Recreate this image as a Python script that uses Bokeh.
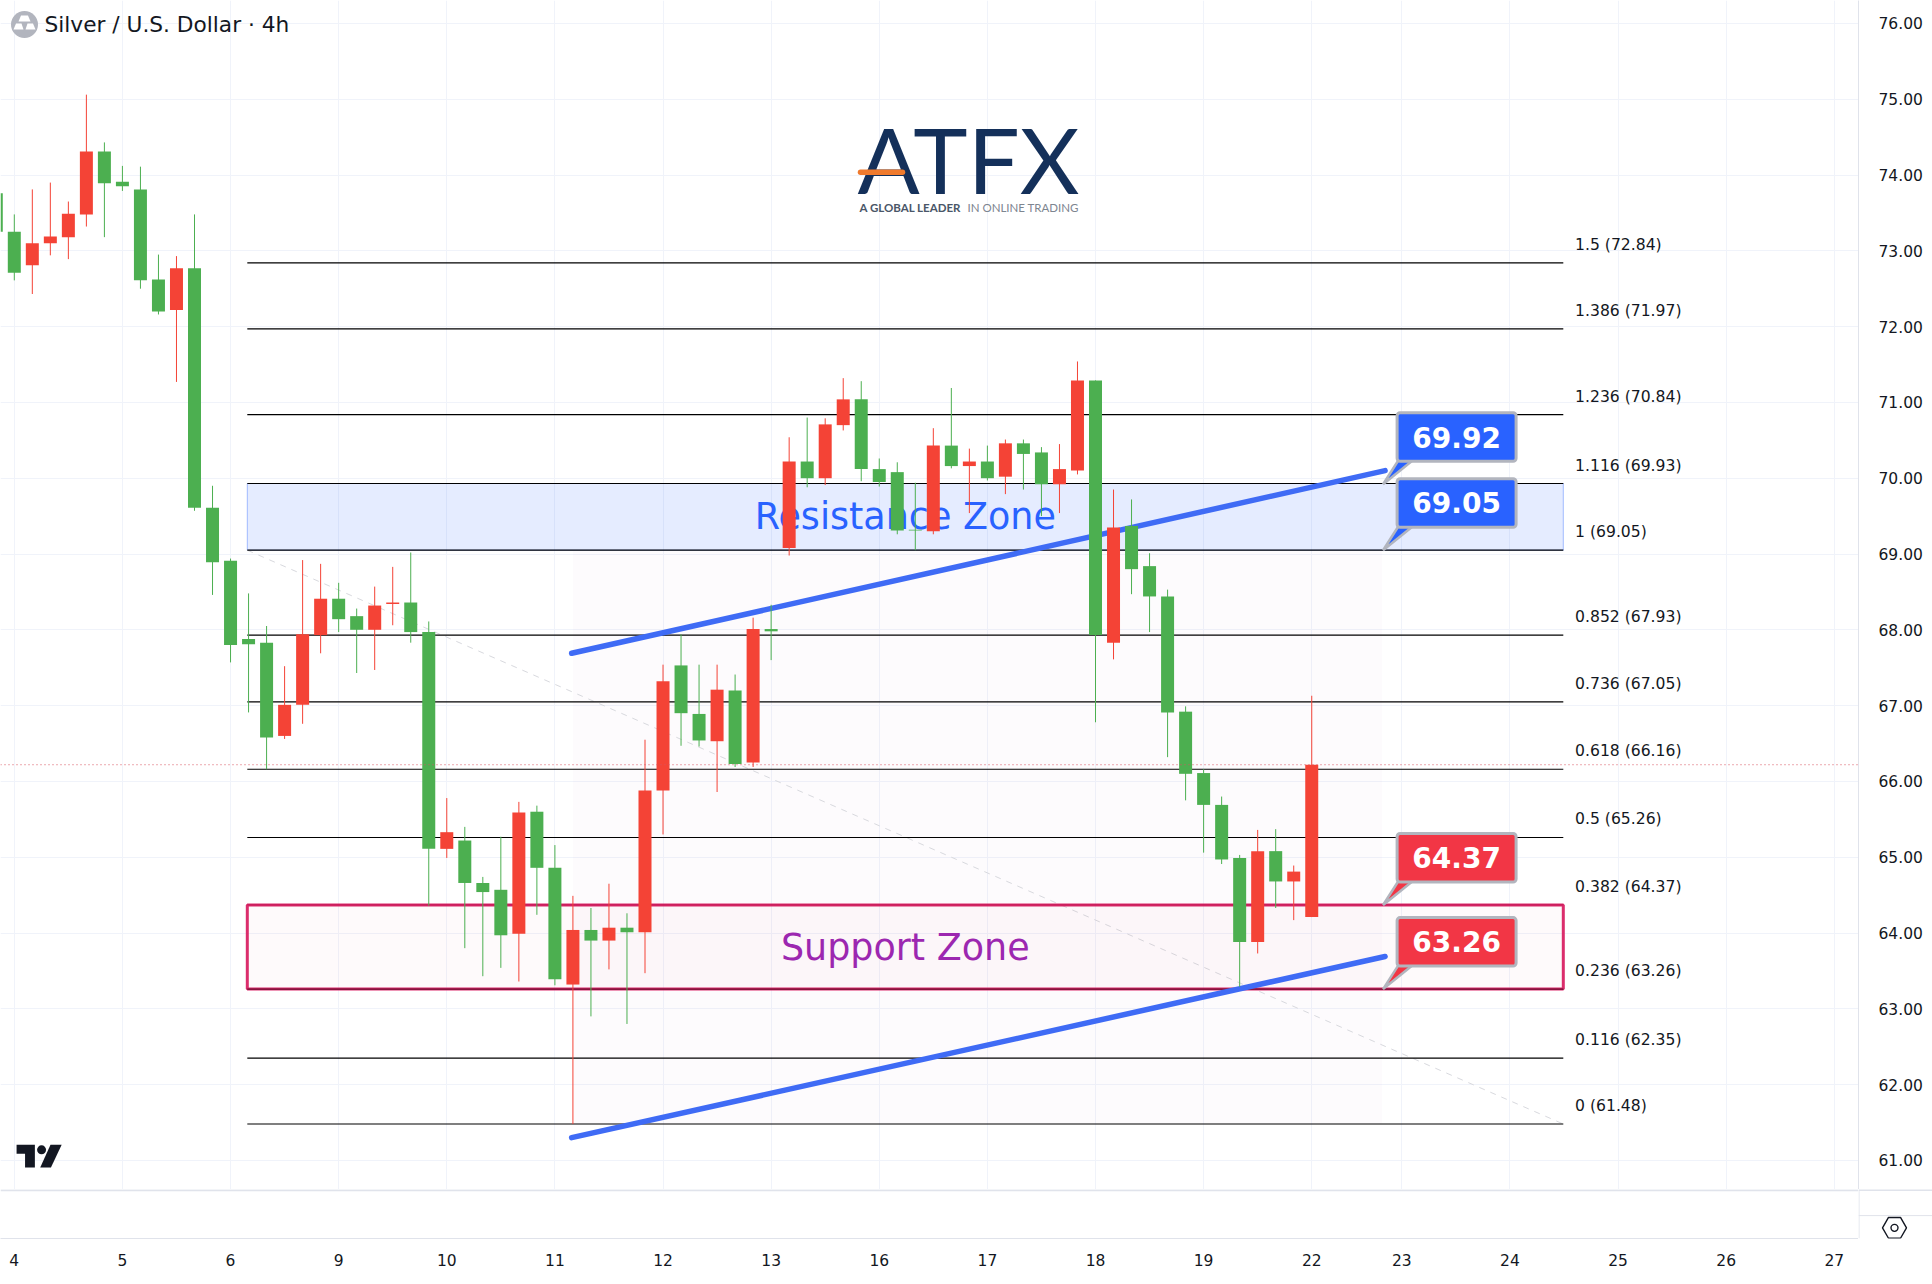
import numpy as np
from bokeh.plotting import figure
from bokeh.embed import file_html
from bokeh.resources import INLINE
from bokeh.core.properties import value
from bokeh.layouts import column, row
from bokeh.models import Range1d, FixedTicker, ColumnDataSource, Span, NumeralTickFormatter

# ---------- data ----------
first_index = -1
opens = [73.76,73.25,72.81,73.10,73.18,73.48,74.31,73.91,73.81,72.62,72.22,72.77,69.61,68.91,67.88,67.83,66.60,67.01,67.93,68.41,68.18,68.00,68.34,68.36,67.97,65.11,65.22,64.66,64.57,63.99,65.60,64.86,63.32,64.04,63.90,64.07,64.01,65.88,67.53,66.89,66.53,67.20,66.25,68.01,69.08,70.22,70.00,70.70,71.04,70.12,70.08,69.32,69.30,70.43,70.16,70.22,70.02,70.46,70.34,69.92,70.10,71.29,67.83,69.37,68.84,68.44,66.92,66.11,65.69,64.99,63.88,65.08,64.68,64.21]
closes = [73.25,72.71,73.10,73.19,73.49,74.31,73.89,73.85,72.61,72.20,72.77,69.61,68.89,67.80,67.81,66.58,67.01,67.94,68.41,68.14,68.00,68.32,68.36,67.97,65.11,65.33,64.66,64.54,63.97,65.59,64.86,63.39,64.04,63.90,64.07,64.01,65.88,67.32,66.90,66.54,67.21,66.23,68.01,67.98,70.22,70.00,70.71,71.04,70.12,69.95,69.31,69.31,70.43,70.16,70.22,70.00,70.46,70.32,69.92,70.12,71.29,67.93,69.35,68.80,68.44,66.91,66.10,65.69,64.97,63.88,65.08,64.68,64.81,66.22]
highs = [73.90,73.48,73.81,73.90,73.65,75.06,74.43,74.12,74.11,72.95,72.93,73.48,69.90,68.94,68.48,68.05,67.52,68.92,68.87,68.62,68.28,68.57,68.83,69.02,68.11,65.78,65.40,64.74,65.27,65.73,65.68,65.16,64.49,64.33,64.65,64.26,66.55,67.54,67.94,67.54,67.54,67.41,68.16,68.33,70.54,70.80,70.79,71.32,71.28,70.26,70.21,69.94,70.66,71.19,70.39,70.43,70.51,70.51,70.41,70.45,71.54,71.29,69.85,69.72,69.01,68.53,66.99,66.16,65.80,65.03,65.36,65.37,64.89,67.13]
lows = [73.20,72.61,72.43,72.94,72.89,73.32,73.18,73.79,72.50,72.16,71.27,69.57,68.46,67.57,66.91,66.16,66.56,66.76,67.69,67.97,67.43,67.47,68.06,67.83,64.36,64.99,63.80,63.43,63.54,63.36,64.24,63.31,61.48,62.90,63.52,62.80,63.47,65.30,66.47,66.46,65.86,66.19,66.19,67.60,68.98,69.88,69.91,70.63,69.96,69.89,69.26,69.05,69.26,70.13,69.54,69.97,69.79,69.85,69.50,69.54,70.05,66.78,67.61,68.47,67.97,66.32,65.75,65.06,64.91,63.29,63.73,64.33,64.17,64.21]
last_price = 66.22

date_ticks = [0,6,12,18,24,30,36,42,48,54,60,66,72,77,83,89,95,101]
date_labels = ["4","5","6","9","10","11","12","13","16","17","18","19","22","23","24","25","26","27"]
price_ticks = list(range(61, 77))

fib_ratios = ["1.5","1.386","1.236","1.116","1","0.852","0.736","0.618","0.5","0.382","0.236","0.116","0"]
fib_prices = [72.84,71.97,70.84,69.93,69.05,67.93,67.05,66.16,65.26,64.37,63.26,62.35,61.48]
fib_x = [12.93, 85.96]
trend_x = [30.93, 76.07]
upper_trend = [67.69, 70.10]
lower_trend = [61.30, 63.69]
shade_x = [31.0, 75.9]
callout_blue = [69.92, 69.05]
callout_red = [64.37, 63.26]
resistance = [69.05, 69.93]
support = [63.26, 64.37]

# ---------- pixel calibration (reference pixels) ----------
X0, DX, Y61, DY = 13.8, 18.02, 1159.9, 75.8
LEFT, RIGHT, TOP, BOTTOM = 0, 1858, 0, 1189
def px2x(px): return (px - X0) / DX
def px2y(py): return 61 + (Y61 - py) / DY

FONT = "DejaVu Sans"
RED, GREEN = "#f44336", "#4caf50"
RULE = "#e0e3eb"

p = figure(width=1932, height=BOTTOM, output_backend="svg", toolbar_location=None,
           x_range=Range1d(px2x(LEFT), px2x(RIGHT)), y_range=Range1d(px2y(BOTTOM), px2y(TOP)),
           x_axis_location=None, y_axis_location="right", min_border_left=0, min_border_top=0,
           min_border_right=1932 - RIGHT, min_border_bottom=0,
           background_fill_color="white", border_fill_color="white", outline_line_color=None)

p.yaxis.ticker = FixedTicker(ticks=price_ticks)
p.yaxis.formatter = NumeralTickFormatter(format="0.00")
p.yaxis.major_tick_line_color = None
p.yaxis.minor_tick_line_color = None
p.yaxis.major_label_text_font = FONT
p.yaxis.major_label_text_font_size = "15.5px"
p.yaxis.major_label_text_color = "#131722"
p.yaxis.axis_line_color = RULE
p.yaxis.major_label_standoff = 14
p.xgrid.ticker = FixedTicker(ticks=date_ticks)
p.ygrid.ticker = FixedTicker(ticks=price_ticks)
p.xgrid.grid_line_color = "#f0f3fa"
p.ygrid.grid_line_color = "#f0f3fa"

# fib shade
p.quad(left=[shade_x[0]], right=[shade_x[1]], bottom=[fib_prices[-1]], top=[fib_prices[4]],
       fill_color="#9c27b0", fill_alpha=0.02, line_color=None)
# resistance zone
p.quad(left=[fib_x[0]], right=[fib_x[1]], bottom=[resistance[0]], top=[resistance[1]],
       fill_color="#2962ff", fill_alpha=0.12, line_color="#2962ff", line_alpha=0.4, line_width=1)
# dashed diagonal
p.line(fib_x, [fib_prices[4], fib_prices[-1]], line_color="#d8d9de", line_width=1, line_dash="6 6")
# fib lines
p.multi_line([fib_x] * len(fib_prices), [[v, v] for v in fib_prices], line_color="#000000", line_width=1.2)
p.text(x=[px2x(1574.6)] * len(fib_prices), y=fib_prices, y_offset=-18,
       text=[f"{r} ({v:.2f})" for r, v in zip(fib_ratios, fib_prices)],
       text_font=value(FONT), text_font_size="15.6px", text_color="#131722",
       text_align="left", text_baseline="middle")
# support zone (its border sits over the fib lines)
p.quad(left=[fib_x[0]], right=[fib_x[1]], bottom=[support[0]], top=[support[1]],
       fill_color="#e91e63", fill_alpha=0.025, line_color="#d81b60", line_alpha=0.92, line_width=3)
p.line(fib_x, [support[0], support[0]], line_color="#000000", line_alpha=0.45, line_width=1.2)
# zone texts
mid_x = sum(fib_x) / 2
p.text(x=[mid_x], y=[sum(resistance) / 2], text=["Resistance Zone"], text_font=value(FONT),
       text_font_size="36.5px", text_color="#2962ff", text_align="center", text_baseline="middle")
p.text(x=[mid_x], y=[sum(support) / 2], text=["Support Zone"], text_font=value(FONT),
       text_font_size="36.5px", text_color="#9c27b0", text_align="center", text_baseline="middle")
# price line
p.add_layout(Span(location=last_price, dimension="width", line_color="#d9535f", line_width=1, line_dash="1 3"))
# trend lines
for ys in (upper_trend, lower_trend):
    p.line(trend_x, ys, line_color="#3f6bf5", line_width=5.5, line_cap="round")

# candles
n = len(opens)
idx = [first_index + k for k in range(n)]
colors = [RED if c >= o else GREEN for o, c in zip(opens, closes)]
src = ColumnDataSource(dict(x=idx, o=opens, c=closes, h=highs, l=lows, color=colors,
                            top=[max(a, b) for a, b in zip(opens, closes)],
                            bottom=[min(a, b) for a, b in zip(opens, closes)]))
p.segment(x0="x", y0="h", x1="x", y1="l", color="color", line_width=1, source=src)
p.vbar(x="x", width=13 / DX, top="top", bottom="bottom", fill_color="color", line_color=None, source=src)

# callouts
anchor_x = 75.96
def callout(v, fill):
    ax, ay = anchor_x, v
    bl = ax + 14 / DX
    br = ax + 133 / DX
    bb = ay + 23 / DY
    bt = ay + 71.5 / DY
    p.patch([ax, ax + 16 / DX, ax + 31 / DX], [ay, bb + 2 / DY, bb + 2 / DY], fill_color=fill,
            line_color="#b2b5be", line_width=2.5)
    p.quad(left=[bl], right=[br], bottom=[bb], top=[bt], fill_color=fill, line_color="#b2b5be",
           line_width=3, border_radius=3)
    p.text(x=[(bl + br) / 2], y=[(bb + bt) / 2], text=[f"{v:.2f}"], text_font=value(FONT),
           text_font_style="bold", text_font_size="28px", text_color="white",
           text_align="center", text_baseline="middle")
for v in callout_blue:
    callout(v, "#2962ff")
for v in callout_red:
    callout(v, "#f23645")

# title
p.scatter([px2x(24)], [px2y(24)], size=27, marker="circle", fill_color="#b2b5be", line_color=None)
for pts in ([(20.5, 15), (27.5, 15), (30, 21), (18, 21)],
            [(13, 29), (15.5, 23), (21, 23), (23, 29)],
            [(25, 29), (27, 23), (32.5, 23), (35, 29)]):
    p.patch([px2x(a) for a, b in pts], [px2y(b) for a, b in pts], fill_color="white", line_color=None)
p.text(x=[px2x(44)], y=[px2y(24)], text=["Silver / U.S. Dollar · 4h"], text_font=value(FONT),
       text_font_size="21.7px", text_color="#131722", text_align="left", text_baseline="middle")

# ATFX logo
p.text(x=[px2x(968)], y=[px2y(158)], text=["ATFX"], text_font=value("Lato"), text_font_size="92px",
       text_color="#14305a", text_align="center", text_baseline="middle")
p.line([px2x(860), px2x(902)], [px2y(171.7)] * 2, line_color="#ef7a2d", line_width=5.5, line_cap="round")
p.text(x=[px2x(859)], y=[px2y(206.5)], text=["A GLOBAL LEADER"], text_font=value("Lato"), text_font_style="bold",
       text_font_size="11.5px", text_color="#4a5668", text_align="left", text_baseline="middle")
p.text(x=[px2x(967)], y=[px2y(206.5)], text=["IN ONLINE TRADING"], text_font=value("Lato"),
       text_font_size="11.5px", text_color="#7d8590", text_align="left", text_baseline="middle")

# TradingView mark
sx, sy = 1 / 2.24, 1 / 3
def tv(a, b): return px2x(a * sx), px2y(1120 + b * sy)
for pts in ([(36, 73), (77, 73), (77, 141), (55, 141), (55, 100), (36, 100)],
            [(112, 73), (137, 73), (113, 141), (89, 141)]):
    q = [tv(a, b) for a, b in pts]
    p.patch([a for a, b in q], [b for a, b in q], fill_color="#131722", line_color=None)
cx, cy = tv(92, 88)
p.scatter([cx], [cy], size=9, marker="circle", fill_color="#131722", line_color=None)

# ---------- time axis strip ----------
AXIS_Y, STRIP_END = 1238, 1281
bottom = figure(width=RIGHT, height=STRIP_END - BOTTOM, output_backend="svg", toolbar_location=None,
                x_range=p.x_range, y_range=Range1d(0, 1), y_axis_location=None,
                min_border_left=0, min_border_right=0, min_border_top=0, min_border_bottom=STRIP_END - AXIS_Y,
                background_fill_color="white", border_fill_color="white", outline_line_color=None)
bottom.grid.visible = False
bottom.xaxis.ticker = FixedTicker(ticks=date_ticks)
bottom.xaxis.major_label_overrides = dict(zip(date_ticks, date_labels))
bottom.xaxis.major_tick_line_color = None
bottom.xaxis.minor_tick_line_color = None
bottom.xaxis.major_label_text_font = FONT
bottom.xaxis.major_label_text_font_size = "15.5px"
bottom.xaxis.major_label_text_color = "#131722"
bottom.xaxis.axis_line_color = RULE
bottom.xaxis.major_label_standoff = 9
bottom.add_layout(Span(location=0.985, dimension="width", line_color=RULE, line_width=2))

# ---------- settings corner ----------
corner = figure(width=1932 - RIGHT, height=STRIP_END - BOTTOM, output_backend="svg", toolbar_location=None,
                x_range=Range1d(RIGHT, 1932), y_range=Range1d(STRIP_END, BOTTOM), x_axis_location=None, y_axis_location=None,
                min_border_left=0, min_border_right=0, min_border_top=0, min_border_bottom=0,
                background_fill_color="white", border_fill_color="white", outline_line_color=None)
corner.grid.visible = False
corner.add_layout(Span(location=BOTTOM + 1, dimension="width", line_color=RULE, line_width=2))
corner.add_layout(Span(location=AXIS_Y, dimension="width", line_color=RULE, line_width=1))
corner.add_layout(Span(location=RIGHT + 0.5, dimension="height", line_color=RULE, line_width=1))
corner.scatter([1894], [1261], size=24, marker="hex", fill_alpha=0, line_color="#131722", line_width=1.4)
corner.scatter([1894], [1261], size=7, marker="circle", fill_alpha=0, line_color="#131722", line_width=1.4)

# ---------- closing rule ----------
strip = figure(width=1932, height=1, output_backend="svg", toolbar_location=None, x_axis_location=None, y_axis_location=None,
               min_border_left=0, min_border_right=0, min_border_top=0, min_border_bottom=0,
               background_fill_color=RULE, border_fill_color=RULE, outline_line_color=None)
strip.grid.visible = False

page = column(p, row(bottom, corner, spacing=0), strip, spacing=0)
open("out.html", "w").write(file_html(page, INLINE))
